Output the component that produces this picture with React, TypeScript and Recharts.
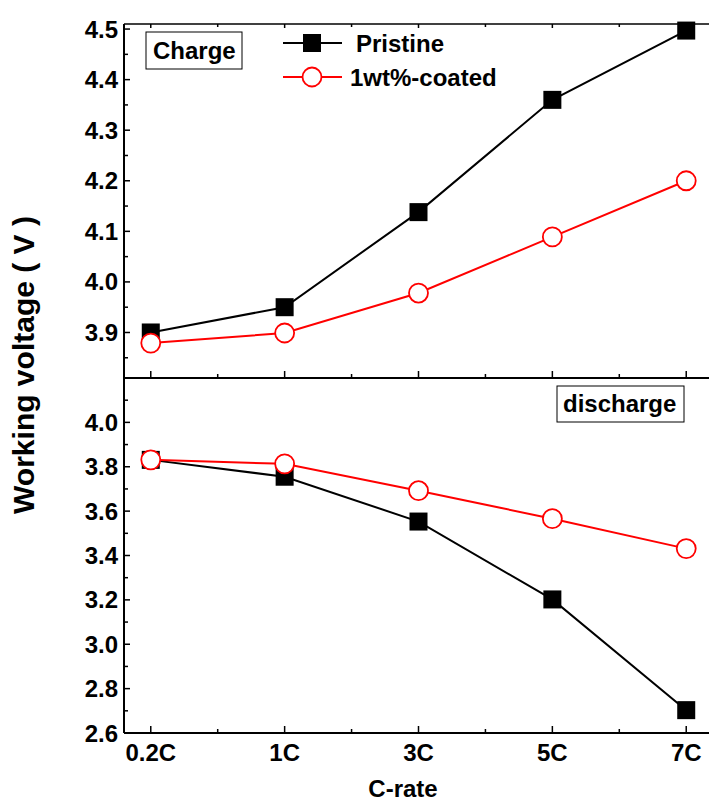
import { LineChart, Line, XAxis, YAxis } from 'recharts'

const categories = ['0.2C', '1C', '3C', '5C', '7C']
const chargePristine = [3.9, 3.95, 4.138, 4.36, 4.497]
const chargeCoated = [3.879, 3.899, 3.978, 4.089, 4.2]
const dischargePristine = [3.831, 3.755, 3.553, 3.202, 2.703]
const dischargeCoated = [3.831, 3.813, 3.692, 3.566, 3.431]

const xTicks = [0, 0.5, 1, 1.5, 2, 2.5, 3, 3.5, 4]
const chargeTicks = [3.85, 3.9, 3.95, 4.0, 4.05, 4.1, 4.15, 4.2, 4.25, 4.3, 4.35, 4.4, 4.45, 4.5]
const dischargeTicks = [2.6, 2.7, 2.8, 2.9, 3.0, 3.1, 3.2, 3.3, 3.4, 3.5, 3.6, 3.7, 3.8, 3.9, 4.0, 4.1]

const chargeRows = categories.map((c, i) => ({ x: i, cat: c, pristine: chargePristine[i], coated: chargeCoated[i] }))
const dischargeRows = categories.map((c, i) => ({ x: i, cat: c, pristine: dischargePristine[i], coated: dischargeCoated[i] }))

const FONT = '"Liberation Sans", Arial, sans-serif'
const RED = '#ff0000'

// x ticks point into the plot; labels only on the bottom axis
const xTick = (dir: number, withLabel: boolean) => (props: any) => {
  const { x, y, payload } = props
  const v = payload.value
  const major = Number.isInteger(v)
  const len = dir < 0 ? (major ? 7 : 4) : (major ? 4 : 3)
  return (
    <g key={`xt-${v}-${dir}`}>
      <line x1={x} x2={x} y1={y} y2={y + dir * len} stroke="#000" strokeWidth={1.5} />
      {withLabel && major && (
        <text x={x} y={y + 28} textAnchor="middle" fontFamily={FONT} fontWeight="bold" fontSize={24} fill="#000">
          {categories[v]}
        </text>
      )}
    </g>
  )
}

const yTick = (isMajor: (v: number) => boolean) => (props: any) => {
  const { x, y, payload } = props
  const v = payload.value
  const major = isMajor(v)
  return (
    <g key={`yt-${v}`}>
      <line x1={x} x2={x + (major ? 6 : 4)} y1={y} y2={y} stroke="#000" strokeWidth={1.5} />
      {major && (
        <text x={x - 6} y={y + 8.5} textAnchor="end" fontFamily={FONT} fontWeight="bold" fontSize={24} fill="#000">
          {v.toFixed(1)}
        </text>
      )}
    </g>
  )
}

const squareDot = (props: any) => {
  const { cx, cy, index } = props
  return <rect key={`sq-${index}`} x={cx - 9} y={cy - 9} width={18} height={18} fill="#000" />
}

const circleDot = (props: any) => {
  const { cx, cy, index } = props
  return <circle key={`ci-${index}`} cx={cx} cy={cy} r={9.5} fill="#fff" stroke={RED} strokeWidth={1.8} />
}

export default function App() {
  return (
    <div style={{ position: 'absolute', left: 0, top: 0, width: 709, height: 808, overflow: 'hidden', background: '#fff' }}>
      <div style={{ position: 'absolute', left: 0, top: 0 }}>
        <LineChart width={713} height={380} data={chargeRows} margin={{ top: 23, right: 0, bottom: 1, left: 0 }}>
          <XAxis
            xAxisId="b"
            type="number"
            dataKey="x"
            domain={[-0.2, 4.2]}
            ticks={xTicks}
            interval={0}
            height={1}
            tickSize={0}
            tickMargin={0}
            tickLine={false}
            axisLine={{ stroke: '#000', strokeWidth: 2 }}
            tick={xTick(-1, false)}
          />
          <XAxis
            xAxisId="t"
            orientation="top"
            type="number"
            dataKey="x"
            domain={[-0.2, 4.2]}
            ticks={xTicks}
            interval={0}
            height={1}
            tickSize={0}
            tickMargin={0}
            tickLine={false}
            axisLine={{ stroke: '#000', strokeWidth: 1.5 }}
            tick={xTick(1, false)}
          />
          <YAxis
            type="number"
            domain={[3.81, 4.51]}
            ticks={chargeTicks}
            interval={0}
            width={124}
            tickSize={0}
            tickMargin={0}
            tickLine={false}
            axisLine={{ stroke: '#000', strokeWidth: 2 }}
            tick={yTick((v) => Math.round(v * 100) % 10 === 0)}
          />
          <Line xAxisId="b" dataKey="pristine" stroke="#000" strokeWidth={2} dot={squareDot} isAnimationActive={false} />
          <Line xAxisId="b" dataKey="coated" stroke={RED} strokeWidth={2} dot={circleDot} isAnimationActive={false} />
        </LineChart>
      </div>
      <div style={{ position: 'absolute', left: 0, top: 378 }}>
        <LineChart width={713} height={430} data={dischargeRows} margin={{ top: 0, right: 0, bottom: 0, left: 0 }}>
          <XAxis
            type="number"
            dataKey="x"
            domain={[-0.2, 4.2]}
            ticks={xTicks}
            interval={0}
            height={75}
            tickSize={0}
            tickMargin={0}
            tickLine={false}
            axisLine={{ stroke: '#000', strokeWidth: 2 }}
            tick={xTick(-1, true)}
          />
          <YAxis
            type="number"
            domain={[2.6, 4.2]}
            ticks={dischargeTicks}
            interval={0}
            width={124}
            tickSize={0}
            tickMargin={0}
            tickLine={false}
            axisLine={{ stroke: '#000', strokeWidth: 2 }}
            tick={yTick((v) => Math.round(v * 10) % 2 === 0)}
          />
          <Line dataKey="pristine" stroke="#000" strokeWidth={2} dot={squareDot} isAnimationActive={false} />
          <Line dataKey="coated" stroke={RED} strokeWidth={2} dot={circleDot} isAnimationActive={false} />
        </LineChart>
      </div>
      <svg width={709} height={808} style={{ position: 'absolute', left: 0, top: 0, pointerEvents: 'none' }}>
        <g fontFamily={FONT} fontWeight="bold" fill="#000">
          <text x={34} y={365} fontSize={30} textAnchor="middle" transform="rotate(-90 34 365)">
            Working voltage ( V )
          </text>
          <text x={403} y={797} fontSize={24} textAnchor="middle">C-rate</text>

          <rect x={146} y={32} width={96} height={37} fill="#fff" stroke="#000" strokeWidth={1} />
          <text x={153} y={59} fontSize={24}>Charge</text>

          <rect x={557} y={386} width={127} height={36} fill="#fff" stroke="#000" strokeWidth={1} />
          <text x={563} y={412} fontSize={24}>discharge</text>

          <line x1={283} x2={342} y1={43} y2={43} stroke="#000" strokeWidth={2} />
          <rect x={303} y={34} width={18} height={18} fill="#000" />
          <text x={356} y={51.5} fontSize={24}>Pristine</text>

          <line x1={283} x2={342} y1={77} y2={77} stroke={RED} strokeWidth={2} />
          <circle cx={312} cy={77} r={9.5} fill="#fff" stroke={RED} strokeWidth={1.8} />
          <text x={350} y={85.5} fontSize={24}>1wt%-coated</text>
        </g>
      </svg>
    </div>
  )
}
